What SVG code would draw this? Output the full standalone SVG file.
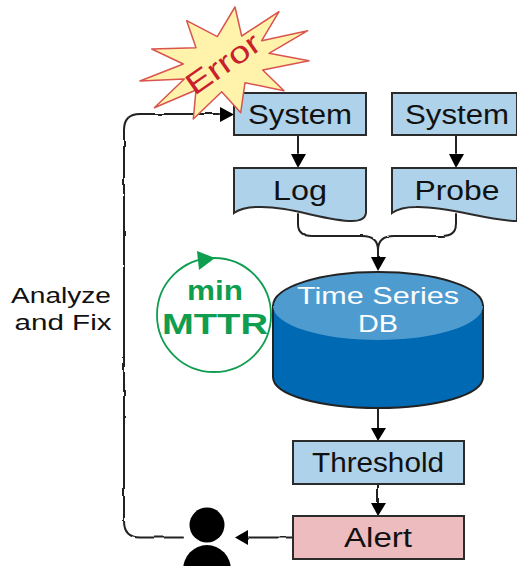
<svg xmlns="http://www.w3.org/2000/svg" width="517" height="566" viewBox="0 0 517 566">
<style>
.box{fill:#aed2ea;stroke:#2b2b2b;stroke-width:2}
.t{font-family:"Liberation Sans",Arial,sans-serif;font-size:27px;fill:#111;text-anchor:middle}
.c{fill:none;stroke:#222;stroke-width:2;stroke-linejoin:round;stroke-linecap:round}
.h{fill:#000}
</style>
<defs>
<filter id="wob" x="-5%" y="-5%" width="110%" height="110%"><feTurbulence type="fractalNoise" baseFrequency="0.06" numOctaves="2" seed="4"/><feDisplacementMap in="SourceGraphic" scale="2.500" xChannelSelector="R" yChannelSelector="G"/></filter>
</defs>
<g id="connectors">
<g filter="url(#wob)">
<path class="c" d="M183 537.500H140Q124 537.500 124 521V130Q124 114 140 114H219"/>
<path class="c" d="M298 135V153"/>
<path class="c" d="M456 135V153"/>
<path class="c" d="M298 214V224Q298 236 312 236H362Q378 236 378 250Q378 236 394 236H442Q456 236 456 224V214"/>
<path class="c" d="M378 250V258"/>
<path class="c" d="M378 408V428"/>
<path class="c" d="M378 484V503"/>
<path class="c" d="M293 537.500H248"/>
</g>
<path class="h" d="M220 107L234 114.500L220 122Z"/>
<path class="h" d="M291 154H306L298 168Z"/>
<path class="h" d="M449 154H464L456 168Z"/>
<path class="h" d="M371 257H386L378 271Z"/>
<path class="h" d="M371 428H386L378 441Z"/>
<path class="h" d="M371 503H386L378 516Z"/>
<path class="h" d="M248 530V545L235 537.500Z"/>
</g>
<g id="system1"><rect class="box" x="234" y="93" width="132" height="42"/><text class="t" x="300" y="124" textLength="104" lengthAdjust="spacingAndGlyphs">System</text></g>
<g id="error">
<path d="M235 7L241.700 36L279 11.700L261.700 40.700L307.700 30.700L269 53.300L309 60.700L262.700 70L284 90.700L245 82.700L240.700 112.700L221.700 91.700L193.300 119L196 90L154.300 107.700L184.300 79L140 81L183.300 64L151.700 49L196 47.700L186.700 20.700L217.300 36.700Z" fill="#fff2ab" stroke="#d9534f" stroke-width="1.500" stroke-linejoin="round"/>
<text transform="translate(229 72) rotate(-35)" font-family="Liberation Sans,Arial,sans-serif" font-size="30" fill="#c8202c" text-anchor="middle" textLength="84" lengthAdjust="spacingAndGlyphs">Error</text>
</g>
<g id="system2"><rect class="box" x="392" y="93" width="125" height="42"/><text class="t" x="457" y="124" textLength="104" lengthAdjust="spacingAndGlyphs">System</text></g>
<g id="log"><path class="box" d="M234 168H366V213Q365 221 352 221C325 221 290 206 258 207C248 207 241 208 234 213Z"/><text class="t" x="300" y="200" textLength="54" lengthAdjust="spacingAndGlyphs">Log</text></g>
<g id="probe"><path class="box" d="M392 168H517V221C488 221 448 206 416 207C406 207 399 208 392 213Z"/><text class="t" x="457" y="200" textLength="85" lengthAdjust="spacingAndGlyphs">Probe</text></g>
<g id="db">
<path d="M273 306V377C273 395 320 408 378 408S483 395 483 377V306Z" fill="#0069b4" stroke="#222" stroke-width="2"/>
<ellipse cx="378" cy="306" rx="105" ry="34" fill="#4e9bd0"/>
<path d="M273 306C273 287 320 272 378 272S483 287 483 306" fill="none" stroke="#222" stroke-width="2"/>
<text font-family="Liberation Sans,Arial,sans-serif" font-size="24" fill="#fff" text-anchor="middle" x="378" y="304" textLength="162" lengthAdjust="spacingAndGlyphs">Time Series</text>
<text font-family="Liberation Sans,Arial,sans-serif" font-size="24" fill="#fff" text-anchor="middle" x="378" y="332" textLength="40" lengthAdjust="spacingAndGlyphs">DB</text>
</g>
<g id="mttr">
<circle cx="214" cy="315" r="57" fill="none" stroke="#0f9d50" stroke-width="1.800"/>
<path d="M197 251L215 258L199 270Z" fill="#0f9d50"/>
<text font-family="Liberation Sans,Arial,sans-serif" font-weight="700" font-size="28" fill="#0f9d50" text-anchor="middle" x="215" y="300" textLength="56" lengthAdjust="spacingAndGlyphs">min</text>
<text font-family="Liberation Sans,Arial,sans-serif" font-weight="700" font-size="30" fill="#0f9d50" text-anchor="middle" x="215" y="334" textLength="106" lengthAdjust="spacingAndGlyphs">MTTR</text>
</g>
<g id="threshold"><rect class="box" x="293" y="441" width="171" height="43"/><text class="t" x="378" y="472" textLength="132" lengthAdjust="spacingAndGlyphs">Threshold</text></g>
<g id="alert"><rect class="box" x="293" y="516" width="171" height="43" style="fill:#edbcbe"/><text class="t" x="378" y="547" textLength="68" lengthAdjust="spacingAndGlyphs">Alert</text></g>
<g id="person"><circle cx="207" cy="525" r="17.500"/><ellipse cx="207" cy="570" rx="24" ry="25"/></g>
<g id="label"><text class="t" style="font-size:22.500px" x="61" y="303" textLength="100" lengthAdjust="spacingAndGlyphs">Analyze</text><text class="t" style="font-size:22.500px" x="63" y="329.500" textLength="97" lengthAdjust="spacingAndGlyphs">and Fix</text></g>
</svg>
